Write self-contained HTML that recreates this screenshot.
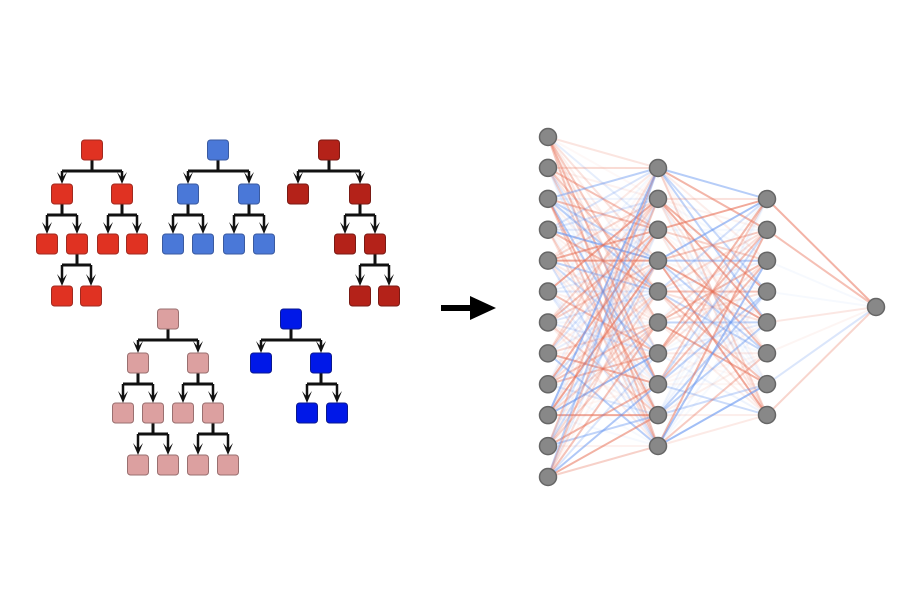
<!DOCTYPE html>
<html><head><meta charset="utf-8"><style>
html,body{margin:0;padding:0;background:#fff;width:900px;height:600px;overflow:hidden}
</style></head><body>
<svg id="s" width="900" height="600" xmlns="http://www.w3.org/2000/svg">
<g id="net"></g>
<g id="trees"></g>
<path d="M441,308 L475,308" stroke="#000" stroke-width="6"/>
<path d="M470,296 L496,308 L470,320 Z" fill="#000"/>
</svg>
<script>
var NS="http://www.w3.org/2000/svg";
function el(t,a,p){var e=document.createElementNS(NS,t);for(var k in a)e.setAttribute(k,a[k]);p.appendChild(e);return e;}
var T=document.getElementById('trees');
function tree(col,stroke,nodes,edges){
 edges.forEach(function(e){
  var p=nodes[e[0]],a=nodes[e[1]],b=nodes[e[2]];
  var by=p[1]+21;
  el('path',{d:'M'+p[0]+','+(p[1]+10)+' L'+p[0]+','+by,stroke:'#111','stroke-width':3,fill:'none'},T);
  el('path',{d:'M'+a[0]+','+by+' L'+b[0]+','+by,stroke:'#111','stroke-width':3,fill:'none'},T);
  [a,b].forEach(function(c){
   var top=c[1]-10;
   el('path',{d:'M'+c[0]+','+by+' L'+c[0]+','+(top-5),stroke:'#111','stroke-width':2.5,fill:'none'},T);
   el('path',{d:'M'+(c[0]-5)+','+(top-12)+' L'+c[0]+','+top+' L'+(c[0]+5)+','+(top-12)+' L'+c[0]+','+(top-6)+' Z',fill:'#111'},T);
  });
 });
 nodes.forEach(function(n){el('rect',{x:n[0]-10.5,y:n[1]-10,width:21,height:20,rx:3,fill:col,stroke:stroke,'stroke-width':1},T);});
}
tree('#e03222','#a02a20',[[92,150],[62,194],[122,194],[47,244],[77,244],[108,244],[137,244],[62,296],[91,296]],[[0,1,2],[1,3,4],[2,5,6],[4,7,8]]);
tree('#4a78d8','#3a5aa0',[[218,150],[188,194],[249,194],[173,244],[203,244],[234,244],[264,244]],[[0,1,2],[1,3,4],[2,5,6]]);
tree('#b42219','#7a1a14',[[329,150],[298,194],[360,194],[345,244],[375,244],[360,296],[389,296]],[[0,1,2],[2,3,4],[4,5,6]]);
tree('#dca0a0','#9a7070',[[168,319],[138,363],[198,363],[123,413],[153,413],[183,413],[213,413],[138,465],[168,465],[198,465],[228,465]],[[0,1,2],[1,3,4],[2,5,6],[4,7,8],[6,9,10]]);
tree('#0018e8','#0a1890',[[291,319],[261,363],[321,363],[307,413],[337,413]],[[0,1,2],[2,3,4]]);
var N=document.getElementById('net');
var seed=11;function r(){seed=(seed*16807)%2147483647;return seed/2147483647;}
function layer(x,n,y0,y1){var a=[];for(var i=0;i<n;i++)a.push([x,y0+(y1-y0)*i/(n-1)]);return a;}
var L=[layer(548,12,137,477),layer(658,10,168,446),layer(767,8,199,415),[[876,307]]];
for(var l=0;l<3;l++){L[l].forEach(function(a){L[l+1].forEach(function(b){
 var red=r()<0.6,o=Math.pow(r(),1.8)*0.6+0.05;
 el('line',{x1:a[0],y1:a[1],x2:b[0],y2:b[1],stroke:red?'#e8735a':'#6a98f0','stroke-width':2,'stroke-opacity':o.toFixed(2)},N);
});});}
L.forEach(function(ly){ly.forEach(function(p){el('circle',{cx:p[0],cy:p[1],r:8.5,fill:'#888',stroke:'#666','stroke-width':1.5},N);});});
</script>
</body></html>
